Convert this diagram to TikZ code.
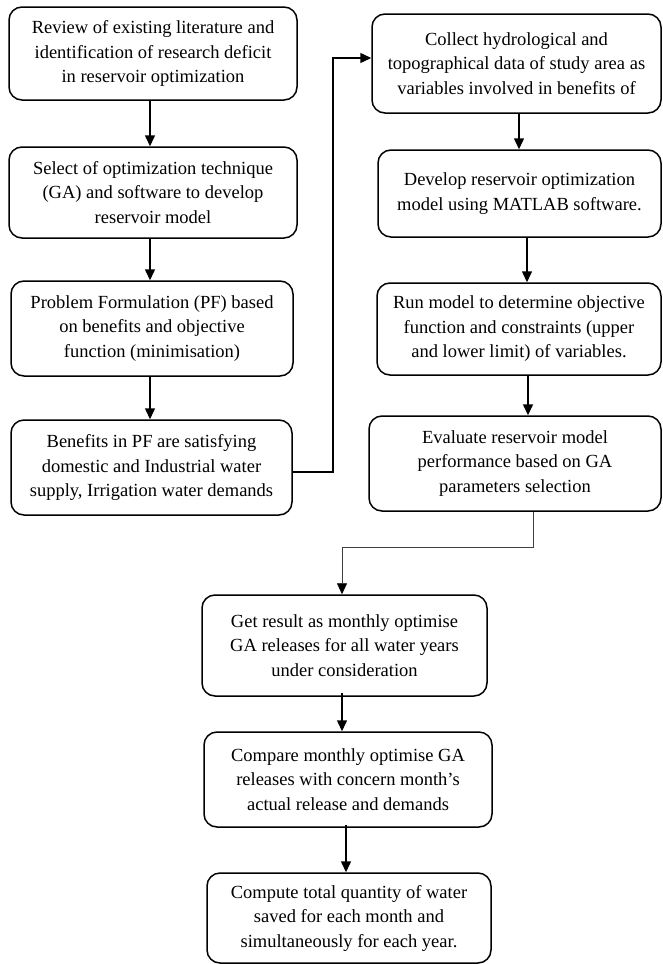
\documentclass[tikz,border=0pt]{standalone}
\usepackage{fontspec}
\setmainfont{Liberation Serif}
\usetikzlibrary{arrows.meta}
\begin{document}
\begin{tikzpicture}[x=1pt,y=-1pt,
  box/.style={draw,line width=1.5pt,rounded corners=13pt,align=center,inner sep=0pt,
    font=\fontsize{18.5}{24.5}\selectfont},
  arr/.style={line width=1.5pt,-{Triangle[length=11pt,width=10pt]}},
  thinarr/.style={line width=0.9pt,draw=black!75,-{Triangle[length=11pt,width=10pt,color=black,fill=black]}}]
\useasboundingbox (0,0) rectangle (662,964);
\node[box,minimum width=288pt,minimum height=93pt] (b1) at (153,53.5)
  {Review of existing literature and\\identification of research deficit\\in reservoir optimization};
\node[box,minimum width=288pt,minimum height=91pt] (b2) at (153,192.5)
  {Select of optimization technique\\(GA) and software to develop\\reservoir model};
\node[box,minimum width=282pt,minimum height=95pt] (b3) at (152,328.5)
  {Problem Formulation (PF) based\\on benefits and objective\\function (minimisation)};
\node[box,minimum width=281pt,minimum height=95pt] (b4) at (151.5,467.5)
  {Benefits in PF are satisfying\\domestic and Industrial water\\supply, Irrigation water demands};
\node[box,minimum width=289pt,minimum height=99pt] (b5) at (516.5,63.5)
  {Collect hydrological and\\topographical data of study area as\\variables involved in benefits of};
\node[box,minimum width=283pt,minimum height=87pt] (b6) at (519.5,193.5)
  {Develop reservoir optimization\\model using MATLAB software.};
\node[box,minimum width=284pt,minimum height=92pt] (b7) at (519,329)
  {Run model to determine objective\\function and constraints (upper\\and lower limit) of variables.};
\node[box,minimum width=292pt,minimum height=95pt] (b8) at (515,463.5)
  {Evaluate reservoir model\\performance based on GA\\parameters selection};
\node[box,minimum width=285pt,minimum height=101pt] (b9) at (344.5,645.5)
  {Get result as monthly optimise\\GA releases for all water years\\under consideration};
\node[box,minimum width=288pt,minimum height=95pt] (b10) at (348,779.5)
  {Compare monthly optimise GA\\releases with concern month’s\\actual release and demands};
\node[box,minimum width=284pt,minimum height=90pt] (b11) at (349,918)
  {Compute total quantity of water\\saved for each month and\\simultaneously for each year.};
\draw[arr] ([xshift=-3pt]b1.south) -- ([xshift=-3pt]b1.south |- b2.north);
\draw[arr] ([xshift=-3pt]b2.south) -- ([xshift=-3pt]b2.south |- b3.north);
\draw[arr] ([xshift=-2pt]b3.south) -- ([xshift=-2pt]b3.south |- b4.north);
\coordinate (j1) at (333,472);
\coordinate (j4) at (333,58);
\draw[arr] (b4.east |- j1) -- (j1) -- (j4) -- (b5.west |- j4);
\draw[arr] ([xshift=2.5pt]b5.south) -- ([xshift=2.5pt]b5.south |- b6.north);
\draw[arr] ([xshift=7.5pt]b6.south) -- ([xshift=7.5pt]b6.south |- b7.north);
\draw[arr] ([xshift=9pt]b7.south) -- ([xshift=9pt]b7.south |- b8.north);
\coordinate (j2) at (533,547);
\coordinate (j3) at (342,547);
\draw[thinarr] (j2 |- b8.south) -- (j2) -- (j3) -- (j3 |- b9.north);
\draw[arr] ([xshift=-2.5pt,yshift=4pt]b9.south) -- ([xshift=-2.5pt]b9.south |- b10.north);
\draw[arr] ([xshift=-2pt,yshift=3pt]b10.south) -- ([xshift=-2pt]b10.south |- b11.north);
\end{tikzpicture}
\end{document}
